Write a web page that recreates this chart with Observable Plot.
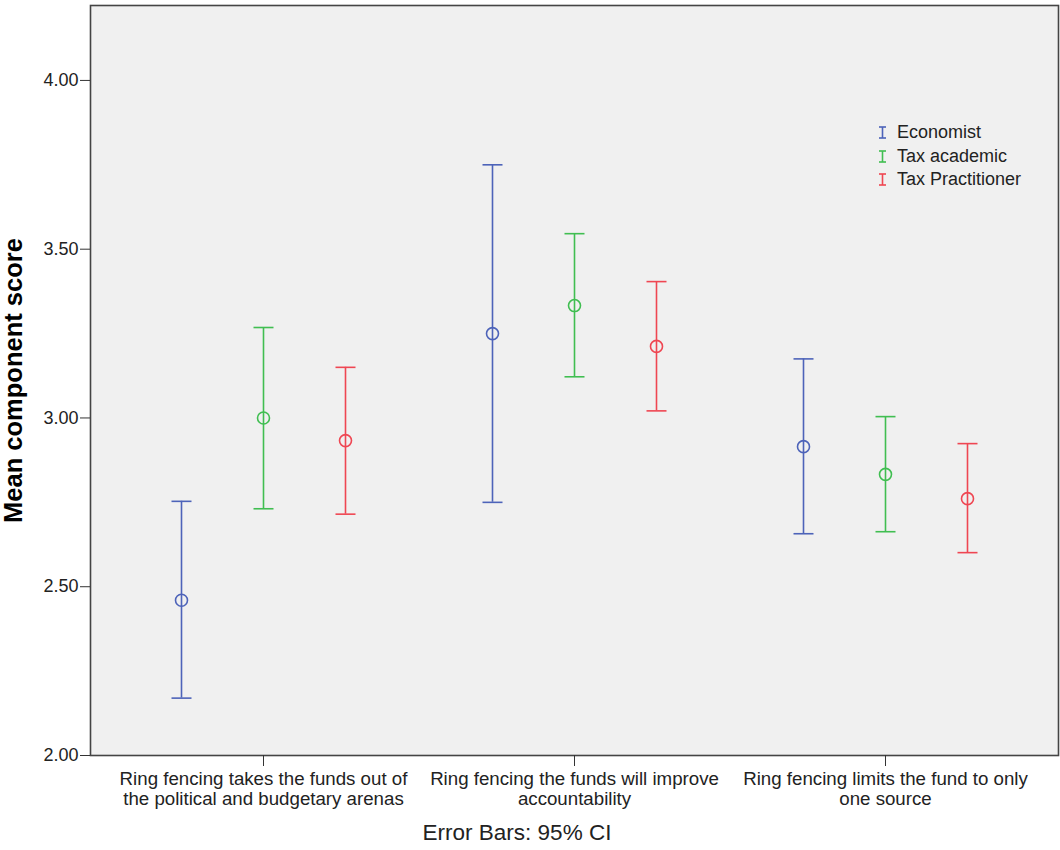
<!DOCTYPE html>
<html>
<head>
<meta charset="utf-8">
<script src="https://cdn.jsdelivr.net/npm/d3@7"></script>
<script src="https://cdn.jsdelivr.net/npm/@observablehq/plot@0.6"></script>
<style>
  body { margin: 0; background: #fff; font-family: "Liberation Sans", Arial, sans-serif; }
  #wrap { position: relative; width: 1060px; height: 850px; }
  #chart svg { display: block; }
  #chart g[aria-label="y-axis label"] text { font-size: 25.5px; font-weight: bold; fill: #000; }
  #legend { position: absolute; left: 878px; top: 120.5px; font-size: 18px; color: #222; }
  #legend .row { display: flex; align-items: center; height: 23.7px; }
  #legend svg { margin-right: 10px; }
  #caption { position: absolute; left: 0; width: 1034px; top: 820px; line-height: 26px;
             text-align: center; font-size: 22.5px; color: #222; }
</style>
</head>
<body>
<div id="wrap">
  <div id="chart"></div>
  <div id="legend"></div>
  <div id="caption">Error Bars: 95% CI</div>
</div>
<script>
// Statements on the x axis and their two-line tick labels
const categories = [
  "Ring fencing takes the funds out of the political and budgetary arenas",
  "Ring fencing the funds will improve accountability",
  "Ring fencing limits the fund to only one source"
];
const categoryLabels = [
  "Ring fencing takes the funds out of\nthe political and budgetary arenas",
  "Ring fencing the funds will improve\naccountability",
  "Ring fencing limits the fund to only\none source"
];

// Respondent groups and their colours
const groups = ["Economist", "Tax academic", "Tax Practitioner"];
const groupColors = ["#4d63b9", "#40be51", "#ef4652"];

// Mean component score with 95% confidence interval, per group
const economistMean = [2.46, 3.25, 2.915];
const economistLow  = [2.17, 2.75, 2.657];
const economistHigh = [2.753, 3.75, 3.175];

const academicMean = [3.00, 3.333, 2.833];
const academicLow  = [2.731, 3.122, 2.663];
const academicHigh = [3.268, 3.546, 3.004];

const practitionerMean = [2.933, 3.212, 2.761];
const practitionerLow  = [2.715, 3.021, 2.601];
const practitionerHigh = [3.15, 3.404, 2.924];

const yTicks = [2.00, 2.50, 3.00, 3.50, 4.00];
const yDomain = [2.0, 4.222];

const seriesValues = [
  [economistMean, economistLow, economistHigh],
  [academicMean, academicLow, academicHigh],
  [practitionerMean, practitionerLow, practitionerHigh]
];

// Long-format table: one row per (statement, group)
const rows = [];
groups.forEach((g, gi) => {
  const [m, lo, hi] = seriesValues[gi];
  categories.forEach((c, ci) => rows.push({category: c, group: g, mean: m[ci], low: lo[ci], high: hi[ci]}));
});

// Groups sit side by side around each statement's position
const groupSpacing = 82;

// Horizontal whisker cap drawn as a dot symbol
const capSymbol = {
  draw(context) {
    context.moveTo(-10, 0);
    context.lineTo(10, 0);
  }
};

const marks = [
  Plot.frame({fill: "#f0f0f0", stroke: "none"}),
];
groups.forEach((g, gi) => {
  const data = rows.filter(d => d.group === g);
  const dx = (gi - 1) * groupSpacing;
  const color = groupColors[gi];
  marks.push(
    Plot.ruleX(data, {x: "category", y1: "low", y2: "high", stroke: color, strokeWidth: 1.6, dx}),
    Plot.dot(data, {x: "category", y: "low", symbol: capSymbol, stroke: color, fill: "none", strokeWidth: 1.6, dx}),
    Plot.dot(data, {x: "category", y: "high", symbol: capSymbol, stroke: color, fill: "none", strokeWidth: 1.6, dx}),
    Plot.dot(data, {x: "category", y: "mean", r: 6, stroke: color, fill: "none", strokeWidth: 1.6, dx})
  );
});
marks.push(
  Plot.frame({stroke: "#444", strokeWidth: 1.6}),
  Plot.axisY({
    ticks: yTicks, tickFormat: d3.format(".2f"), tickSize: 10, tickPadding: 2,
    fontSize: 18, stroke: "#333", color: "#222",
    label: "Mean component score", labelAnchor: "center", labelArrow: "none", labelOffset: 87
  }),
  Plot.axisX({
    tickFormat: (d) => categoryLabels[categories.indexOf(d)],
    tickSize: 11, tickPadding: 4, fontSize: 18.7, stroke: "#333", color: "#222",
    label: null, lineHeight: 1.08
  })
);

const chart = Plot.plot({
  width: 1060,
  height: 815,
  marginTop: 5,
  marginLeft: 90,
  marginRight: 2,
  marginBottom: 60,
  style: {fontFamily: "'Liberation Sans', Arial, sans-serif", background: "#fff"},
  x: {type: "point", domain: categories, padding: 0.553},
  y: {domain: yDomain},
  marks
});
document.getElementById("chart").appendChild(chart);

// Legend: error-bar glyph + group name
const legend = document.getElementById("legend");
groups.forEach((g, gi) => {
  const row = document.createElement("div");
  row.className = "row";
  row.innerHTML =
    `<svg width="9" height="13"><g stroke="${groupColors[gi]}" stroke-width="1.6">
       <line x1="1" x2="8" y1="1" y2="1"/><line x1="4.5" x2="4.5" y1="1" y2="12"/><line x1="1" x2="8" y1="12" y2="12"/>
     </g></svg><span>${g}</span>`;
  legend.appendChild(row);
});
</script>
</body>
</html>
